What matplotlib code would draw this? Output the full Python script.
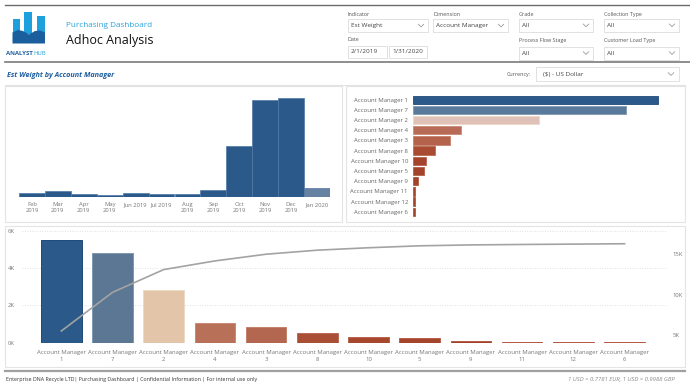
import matplotlib
matplotlib.use('Agg')
import matplotlib.pyplot as plt
from matplotlib.patches import Rectangle, Polygon
import numpy as np

plt.rcParams['font.family'] = ['Open Sans', 'DejaVu Sans']

# data
months = ['Feb\n2019', 'Mar\n2019', 'Apr\n2019', 'May\n2019', 'Jun 2019', 'Jul 2019',
          'Aug\n2019', 'Sep\n2019', 'Oct\n2019', 'Nov\n2019', 'Dec\n2019', 'Jan 2020']
month_weight = [240, 375, 185, 110, 240, 170, 170, 430, 2900, 5450, 5580, 520]

managers = ['Account Manager 1', 'Account Manager 7', 'Account Manager 2', 'Account Manager 4',
            'Account Manager 3', 'Account Manager 8', 'Account Manager 10', 'Account Manager 5',
            'Account Manager 9', 'Account Manager 11', 'Account Manager 12', 'Account Manager 6']
manager_weight = [5490, 4780, 2820, 1070, 830, 500, 300, 240, 110, 55, 45, 45]

# styles
bar_cols_h = ['#2b5a8a', '#5a7a9b', '#dfc1b8', '#b86b57', '#b5624c', '#a94a33',
              '#a5442c', '#a4432b', '#a3412a', '#a3402a', '#a3402a', '#a3402a']
bar_cols_b = ['#2b5a8a', '#5b7794', '#e3c6a9', '#b87158', '#b46750', '#a94f35',
              '#a7472e', '#a5442c', '#a3412a', '#a3402a', '#a3402a', '#a3402a']
edge_cols = ['#1f4a78', '#7f97b0', '#ecd9c6', '#c98a75', '#c4816c', '#bb6a55',
             '#b86450', '#b5604b', '#b25a45', '#b25a45', '#b25a45', '#b25a45']

W, H = 690, 392
fig = plt.figure(figsize=(6.9, 3.92), dpi=100)
fig.patch.set_facecolor('white')


def px_axes(x0, y0, x1, y1, **kw):
    return fig.add_axes([x0 / W, 1 - y1 / H, (x1 - x0) / W, (y1 - y0) / H], **kw)


# background layer in pixel coordinates
bg = fig.add_axes([0, 0, 1, 1])
bg.set_xlim(0, W)
bg.set_ylim(H, 0)
bg.axis('off')

bg.plot([5, 690], [4.5, 4.5], color='#6b6b6b', lw=1.0)
bg.plot([5, 690], [62, 62], color='#7a7a7a', lw=1.2)
bg.plot([5, 685], [85, 85], color='#e2e2e2', lw=0.8)
bg.plot([5, 685], [371, 371], color='#a0a0a0', lw=1.6)

# logo
for x0, y0, w in [(12.7, 19, 7.6), (24, 11.5, 8.2), (36.5, 15.5, 8)]:
    bg.add_patch(Rectangle((x0, y0), w, 34 - y0, color='#1ea0dc', lw=0))
bg.add_patch(Polygon([(12.5, 43.5), (12.5, 32.5), (18, 30), (23, 31), (29, 34.5), (35, 31),
                      (40, 30.5), (45, 32.5), (45, 43.5)], color='#1b5e9e', lw=0))
t_an = bg.text(6, 53, 'ANALYST', fontsize=4.3, fontweight='bold', color='#1b5e9e', va='center')
fig.canvas.draw()
bb = t_an.get_window_extent().transformed(bg.transData.inverted())
bg.text(bb.x1 + 0.2, 53, 'HUB', fontsize=4.3, color='#1ea0dc', va='center')

bg.text(66, 25, 'Purchasing Dashboard', fontsize=5.9, color='#29a3dc', va='center')
bg.text(66, 40, 'Adhoc Analysis', fontsize=9, color='#111111', va='center')
bg.text(7, 75, 'Est Weight by Account Manager', fontsize=5.2, fontweight='bold',
        style='italic', color='#1f5fa0', va='center')


def chevron(cx, cy):
    bg.plot([cx - 2.8, cx, cx + 2.8], [cy - 1.3, cy + 1.4, cy - 1.3], color='#8a8a8a', lw=0.5)


def dropdown(label, value, x0, x1, ly, by0, by1, arrow=True):
    bg.text(x0, ly, label, fontsize=3.9, color='#555555', va='center')
    bg.add_patch(Rectangle((x0, by0), x1 - x0, by1 - by0, fill=False,
                           edgecolor='#dcdcdc', lw=0.6))
    bg.text(x0 + 3, (by0 + by1) / 2, value, fontsize=4.6, color='#444444', va='center')
    if arrow:
        chevron(x1 - 7, (by0 + by1) / 2)


dropdown('Indicator', 'Est Weight', 348, 428, 14, 19, 32)
dropdown('Dimension', 'Account Manager', 433, 508, 14, 19, 32)
dropdown('Grade', 'All', 519, 593, 14, 18.5, 32)
dropdown('Collection Type', 'All', 604, 679, 14, 18.5, 32)
dropdown('Date', '2/1/2019', 348, 387, 39.5, 45.5, 58, arrow=False)
bg.add_patch(Rectangle((389, 45.5), 38, 12.5, fill=False, edgecolor='#dcdcdc', lw=0.6))
bg.text(392, 51.75, '1/31/2020', fontsize=4.6, color='#444444', va='center')
dropdown('Process Flow Stage', 'All', 519, 593, 40.5, 46.5, 59.5)
dropdown('Customer Load Type', 'All', 604, 679, 40.5, 46.5, 59.5)

bg.text(531, 74, 'Currency:', fontsize=3.9, color='#555555', va='center', ha='right')
bg.add_patch(Rectangle((536, 67), 143, 14, fill=False, edgecolor='#dcdcdc', lw=0.6))
bg.text(543, 74, '($) - US Dollar', fontsize=4.6, color='#444444', va='center')
chevron(671, 74)

# panel borders
for x0, y0, x1, y1 in [(5, 86, 342, 222), (346, 86, 685, 222), (5, 226, 685, 367)]:
    bg.add_patch(Rectangle((x0, y0), x1 - x0, y1 - y0, fill=False, edgecolor='#e4e4e4', lw=0.8))

bg.text(6, 380, 'Enterprise DNA Recycle LTD| Purchasing Dashboard | Confidential Information | For internal use only',
        fontsize=3.8, color='#333333', va='center')
bg.text(675, 380, '1 USD = 0.7781 EUR, 1 USD = 0.9988 GBP', fontsize=4.2, style='italic',
        color='#8a8a8a', va='center', ha='right')

# monthly column chart
ax1 = px_axes(19, 92, 330, 197.3)
xm = np.arange(len(months))
mcols = ['#2b5a8a'] * (len(months) - 1) + ['#6781a2']
ax1.bar(xm, month_weight, width=1.0, color=mcols, edgecolor='#4f78a5', lw=0.5)
ax1.set_xlim(-0.5, len(months) - 0.5)
ax1.set_ylim(0, 5900)
ax1.set_xticks(xm)
ax1.set_xticklabels(months, fontsize=4.2, color='#777777', linespacing=1.25)
ax1.tick_params(axis='x', length=0, pad=3.5)
ax1.set_yticks([])
for s in ax1.spines.values():
    s.set_visible(False)
ax1.patch.set_alpha(0)

# horizontal bar chart
ax2 = px_axes(413, 94.6, 675, 216.8)
yh = np.arange(len(managers))
ax2.barh(yh, manager_weight, height=0.82, color=bar_cols_h, edgecolor=edge_cols, lw=0.6)
ax2.set_ylim(len(managers) - 0.5, -0.5)
ax2.set_xlim(0, 5871)
ax2.set_yticks(yh)
ax2.set_yticklabels(managers, fontsize=4.3, color='#666666')
ax2.tick_params(axis='y', length=0, pad=3.6)
ax2.set_xticks([])
for s in ax2.spines.values():
    s.set_visible(False)
ax2.patch.set_alpha(0)

# pareto chart
ax3 = px_axes(22, 230.7, 667, 342.7)
xb = np.arange(len(managers))
ax3.bar(xb, manager_weight, width=0.795, color=bar_cols_b, edgecolor=edge_cols, lw=0.7, zorder=2)
ax3.set_xlim(-0.768, 11.83)
ax3.set_ylim(0, 6000)
ax3.set_yticks([0, 2000, 4000, 6000])
ax3.set_yticklabels(['0K', '2K', '4K', '6K'], fontsize=4.2, color='#777777')
ax3.tick_params(axis='y', length=0, pad=5)
ax3.set_xticks(xb)
ax3.set_xticklabels([m.replace('Manager ', 'Manager\n') for m in managers],
                    fontsize=4.3, color='#777777', linespacing=1.55)
ax3.tick_params(axis='x', length=0, pad=5)
ax3.grid(axis='y', color='#d8d8d8', lw=0.6, linestyle=(0, (1, 2)))
ax3.set_axisbelow(True)
for s in ax3.spines.values():
    s.set_visible(False)
ax3.patch.set_alpha(0)

ax4 = ax3.twinx()
ax4.plot(xb, np.cumsum(manager_weight), color='#a3a3a3', lw=1.2)
ax4.set_ylim(4040, 17900)
ax4.set_yticks([5000, 10000, 15000])
ax4.set_yticklabels(['5K', '10K', '15K'], fontsize=4.2, color='#777777')
ax4.tick_params(axis='y', length=0, pad=4)
for s in ax4.spines.values():
    s.set_visible(False)

fig.savefig('out.png', dpi=100, facecolor='white')
